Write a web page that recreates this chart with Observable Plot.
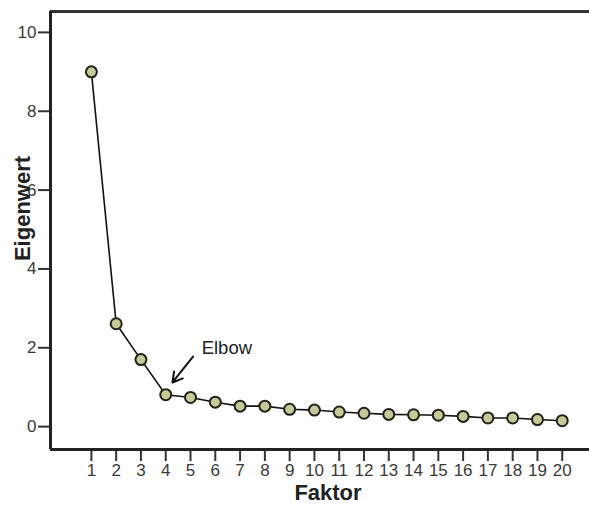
<!DOCTYPE html>
<html><head><meta charset="utf-8">
<script src="https://cdn.jsdelivr.net/npm/d3@7"></script>
<script src="https://cdn.jsdelivr.net/npm/@observablehq/plot@0.6"></script>
<style>body{margin:0;background:#fff}</style>
</head><body><div id="chart"></div>
<script>
const faktor = [1,2,3,4,5,6,7,8,9,10,11,12,13,14,15,16,17,18,19,20];
const eigenwert = [9.0,2.61,1.70,0.81,0.74,0.62,0.52,0.52,0.44,0.42,0.37,0.34,0.31,0.30,0.29,0.26,0.22,0.22,0.18,0.15];
const xTicks = faktor;
const yTicks = [0,2,4,6,8,10];
const xDomain = [-0.65, 21.1];
const yDomain = [-0.58, 10.53];
const annotation = [{label:"Elbow", x:5.45, y:2.0, x1:5.11, y1:1.78, x2:4.27, y2:1.12}];

const data = faktor.map((f,i)=>({f, e:eigenwert[i]}));

const chart = Plot.plot({
  width: 589, height: 512,
  marginLeft: 50, marginTop: 11, marginBottom: 63, marginRight: 0,
  style: {fontFamily: "'Liberation Sans', Arial, sans-serif", background: "#fff"},
  x: {domain: xDomain, ticks: xTicks, label: null},
  y: {domain: yDomain, ticks: yTicks, label: null},
  marks: [
    Plot.axisX({ticks: xTicks, tickSize: 12, tickFormat: () => "", stroke: "#333", strokeWidth: 2, label: null}),
    Plot.axisY({ticks: yTicks, tickSize: 12, tickFormat: () => "", stroke: "#333", strokeWidth: 2, label: null}),
    Plot.text(xTicks, {x: d => d, frameAnchor: "bottom", dy: 26, text: d => String(d), fontSize: 17, fill: "#3a3a3a"}),
    Plot.text(yTicks, {y: d => d, frameAnchor: "left", textAnchor: "end", dx: -14, text: d => String(d), fontSize: 17, fill: "#3a3a3a"}),
    Plot.ruleY([yDomain[1]], {stroke: "#333", strokeWidth: 3}),
    Plot.ruleY([yDomain[0]], {stroke: "#222", strokeWidth: 3}),
    Plot.ruleX([xDomain[0]], {stroke: "#222", strokeWidth: 3}),
    Plot.line(data, {x: "f", y: "e", stroke: "#111", strokeWidth: 1.6}),
    Plot.dot(data, {x: "f", y: "e", r: 5.5, fill: "#c6ca98", stroke: "#22221a", strokeWidth: 2}),
    Plot.arrow(annotation, {x1: "x1", y1: "y1", x2: "x2", y2: "y2", stroke: "#111", strokeWidth: 2, headLength: 12, headAngle: 60}),
    Plot.text(annotation, {x: "x", y: "y", text: "label", textAnchor: "start", fontSize: 18.5, fill: "#222"}),
    Plot.text(["Faktor"], {frameAnchor: "bottom", textAnchor: "middle", dx: 8, dy: 50, text: d => d, fontSize: 22, fontWeight: "bold", fill: "#222"}),
    Plot.text(["Eigenwert"], {frameAnchor: "left", textAnchor: "middle", dx: -28, dy: -22, rotate: -90, text: d => d, fontSize: 22, fontWeight: "bold", fill: "#222"})
  ]
});
document.getElementById("chart").append(chart);
</script></body></html>
